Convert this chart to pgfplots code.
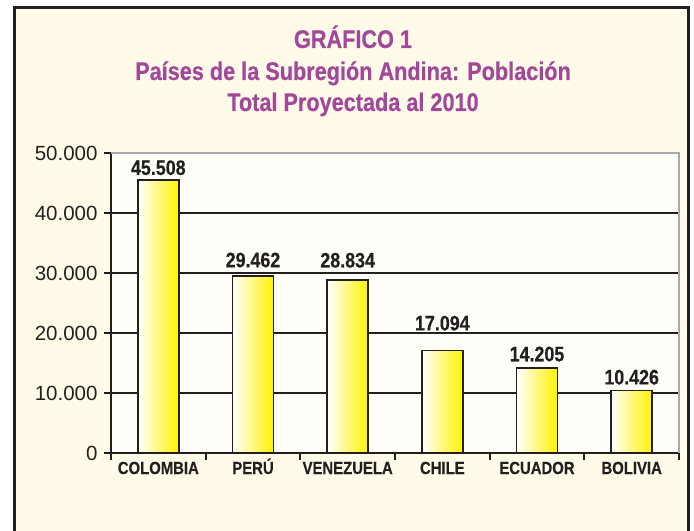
\documentclass[border=0pt]{standalone}
\usepackage{pgfplots}
\pgfplotsset{compat=1.18}
\usepackage{fontspec}
\setmainfont{Liberation Sans}
\newfontfamily\cond[FakeStretch=0.85,FakeBold=0.4]{Liberation Sans}
\definecolor{cream}{HTML}{FFFBE8}
\definecolor{plotbg}{HTML}{FFFEF8}
\definecolor{titlec}{HTML}{A3479B}
\definecolor{ink}{HTML}{231F20}
\definecolor{bary}{HTML}{FFF200}
\definecolor{framegray}{HTML}{A8A8AE}
\pgfplotsset{
  andina bar/.style={ybar, bar width=41bp, draw=ink, line width=1.8bp,
    left color=white, right color=bary,
    nodes near coords, point meta=explicit symbolic,
    nodes near coords style={font=\cond\bfseries\fontsize{21bp}{24bp}\selectfont,
      text=ink, anchor=base, inner sep=0pt, yshift=#1}},
}
\begin{document}
\begin{tikzpicture}[x=1bp,y=1bp]
\useasboundingbox (0,0) rectangle (694,531);
\fill[white] (0,0) rectangle (694,531);
\fill[cream] (14,0) rectangle (688,523);
\draw[ink, line width=3bp] (14,0) -- (14,523) -- (688,523) -- (688,0);
% title
\begin{scope}[every node/.style={anchor=base, text=titlec, inner sep=0pt,
    font=\cond\bfseries\fontsize{25.5bp}{30bp}\selectfont}]
\node at (353,483) {GRÁFICO 1};
\node at (353,451) {Países de la Subregión Andina: Población};
\node at (353,420) {Total Proyectada al 2010};
\end{scope}
\begin{axis}[
  at={(111bp,78bp)}, anchor=south west,
  scale only axis, width=568bp, height=300bp,
  xmin=-0.5, xmax=5.5, ymin=0, ymax=50000,
  axis lines=left, axis line style={-, ink, line width=2bp},
  axis background/.style={fill=plotbg},
  tick align=outside, major tick length=7bp,
  tick style={ink, line width=2bp},
  ytick={0,10000,...,50000},
  yticklabels={0,10.000,20.000,30.000,40.000,50.000},
  scaled y ticks=false,
  yticklabel style={font=\fontsize{20.5bp}{24bp}\selectfont, text=ink, xshift=-3bp},
  ymajorgrids, major grid style={ink, line width=1.8bp},
  xtick={-0.5,0.5,...,5.5}, xticklabel=\empty,
  extra x ticks={0,1,2,3,4,5},
  extra x tick labels={COLOMBIA,PERÚ,VENEZUELA,CHILE,ECUADOR,BOLIVIA},
  extra x tick style={major tick length=0pt, grid=none,
    xticklabel style={font=\cond\bfseries\fontsize{17.5bp}{20bp}\selectfont,
      text=ink, text height=12.5bp, text depth=0pt, yshift=-5bp}},
  clip=false,
]
% label offsets follow the reference, which lifts some labels clear of the grid
\addplot[andina bar=5bp] coordinates {(0,45508)[45.508]};
\addplot[andina bar=9bp] coordinates {(1,29462)[29.462]};
\addplot[andina bar=12.5bp] coordinates {(2,28834)[28.834]};
\addplot[andina bar=20bp] coordinates {(3,17094)[17.094]};
\addplot[andina bar=6.5bp] coordinates {(4,14205)[14.205]};
\addplot[andina bar=6bp] coordinates {(5,10426)[10.426]};
\draw[framegray, line width=2bp] (rel axis cs:0,1) -- (rel axis cs:1,1) -- (rel axis cs:1,0);
\end{axis}
\end{tikzpicture}
\end{document}
